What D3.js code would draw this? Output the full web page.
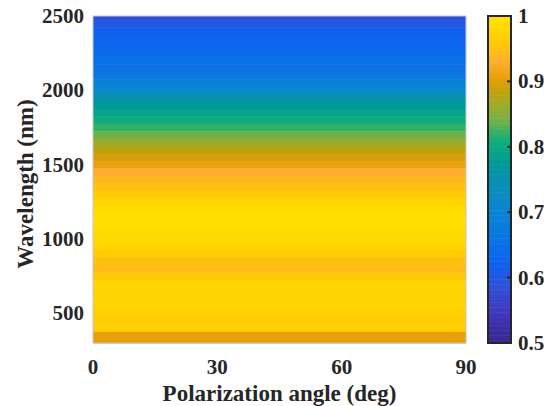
<!DOCTYPE html>
<html lang="en">
<head>
<meta charset="UTF-8">
<title>Wavelength vs polarization</title>
<script src="https://d3js.org/d3.v7.min.js"></script>
<style>
    body{ margin:0; background:#fff; }
    text{ font-family:"Liberation Serif","Times New Roman",serif; font-weight:bold; fill:#262626; }
</style>
</head>
<body>
<svg id="main" width="555" height="406"></svg>
<script>
    // wavelengths (nm), value is the same at every polarization angle
    let wavelengths = [2500,2450,2400,2350,2300,2250,2200,2150,2100,2050,2000,1950,1900,1850,1800,1750,1700,1650,1600,1550,
        1500,1450,1400,1350,1300,1250,1200,1150,1100,1050,1000,950,900,850,800,750,700,650,600,550,500,450,400,350,300];
    let values = [0.585,0.6,0.62,0.625,0.63,0.64,0.65,0.655,0.67,0.69,0.715,0.75,0.775,0.79,0.805,0.82,0.84,0.86,0.88,0.895,
        0.91,0.93,0.94,0.95,0.965,0.975,0.99,0.995,0.995,0.99,0.985,0.975,0.965,0.95,0.945,0.96,0.975,0.975,0.975,0.975,0.97,0.965,0.965,0.905,0.9];
    let angleTicks = [0,30,60,90];
    let wlTicks = [500,1000,1500,2000,2500];
    let cbTicks = [0.5,0.6,0.7,0.8,0.9,1];

    // colormap (parula-like, as it appears in the figure)
    let cmapPos = [0,0.1,0.17,0.24,0.3,0.38,0.43,0.5,0.55,0.62,0.68,0.72,0.76,0.81,0.86,0.9,0.95,1];
    let cmapCol = ['#38268c','#4038c0','#3350d8','#1060f0','#0a70e8','#0a80d8','#0a88cc','#0890b0','#009a98','#10ae78',
        '#70b048','#98ac30','#b8a410','#e89e08','#ffae30','#ffc010','#ffd400','#ffe200'];
    let cmap = d3.scaleLinear().domain(cmapPos).range(cmapCol).interpolate(d3.interpolateRgb);
    let color = v => cmap((v - 0.5) / 0.5);

    let svg = d3.select('#main');
    let plot = {left:93, right:466, top:16, bottom:343};
    let xScale = d3.scaleLinear().domain([0, 90]).range([plot.left, plot.right]);
    let yScale = d3.scaleLinear().domain([300, 2500]).range([plot.bottom, plot.top]);

    let rows = wavelengths.map((w, i) => ({w: w, v: values[i]}));
    let step = 50;
    svg.append('g').selectAll('rect')
        .data(rows)
        .enter()
        .append('rect')
        .attr('x', xScale(0))
        .attr('width', xScale(90) - xScale(0))
        .attr('y', d => yScale(Math.min(2500, d.w + step/2)))
        .attr('height', d => yScale(Math.max(300, d.w - step/2)) - yScale(Math.min(2500, d.w + step/2)) + 0.5)
        .attr('fill', d => color(d.v));

    svg.append('rect')
        .attr('x', plot.left).attr('y', plot.top)
        .attr('width', plot.right - plot.left).attr('height', plot.bottom - plot.top)
        .attr('fill', 'none').attr('stroke', '#c8c8c8').attr('stroke-width', 1);

    // x tick labels
    svg.append('g').selectAll('text')
        .data(angleTicks)
        .enter()
        .append('text')
        .attr('x', d => xScale(d))
        .attr('y', 374)
        .attr('text-anchor', 'middle')
        .style('font-size', '21px')
        .text(d => d);

    // y tick labels
    svg.append('g').selectAll('text')
        .data(wlTicks)
        .enter()
        .append('text')
        .attr('x', 84)
        .attr('y', d => yScale(d) + 7)
        .attr('text-anchor', 'end')
        .style('font-size', '21px')
        .text(d => d);

    svg.append('text')
        .attr('x', (plot.left + plot.right) / 2)
        .attr('y', 401)
        .attr('text-anchor', 'middle')
        .style('font-size', '23px')
        .text('Polarization angle (deg)');

    svg.append('text')
        .attr('transform', 'translate(33,184) rotate(-90)')
        .attr('text-anchor', 'middle')
        .style('font-size', '23px')
        .text('Wavelength (nm)');

    // colorbar
    let cb = {left:488, right:511};
    let nSteps = 128;
    let cbScale = d3.scaleLinear().domain([0.5, 1]).range([plot.bottom, plot.top]);
    svg.append('g').selectAll('rect')
        .data(d3.range(nSteps))
        .enter()
        .append('rect')
        .attr('x', cb.left)
        .attr('width', cb.right - cb.left)
        .attr('y', i => cbScale(0.5 + (i + 1) * 0.5 / nSteps))
        .attr('height', (plot.bottom - plot.top) / nSteps + 0.5)
        .attr('fill', i => color(0.5 + (i + 0.5) * 0.5 / nSteps));
    svg.append('rect')
        .attr('x', cb.left).attr('y', plot.top)
        .attr('width', cb.right - cb.left).attr('height', plot.bottom - plot.top)
        .attr('fill', 'none').attr('stroke', '#262626').attr('stroke-width', 2);
    svg.append('g').selectAll('line')
        .data(cbTicks.slice(1, -1))
        .enter()
        .append('line')
        .attr('x1', cb.right - 4).attr('x2', cb.right)
        .attr('y1', d => cbScale(d)).attr('y2', d => cbScale(d))
        .attr('stroke', '#262626').attr('stroke-width', 2);
    svg.append('g').selectAll('text')
        .data(cbTicks)
        .enter()
        .append('text')
        .attr('x', 518)
        .attr('y', d => cbScale(d) + 7)
        .style('font-size', '21px')
        .text(d => d);
</script>
</body>
</html>
